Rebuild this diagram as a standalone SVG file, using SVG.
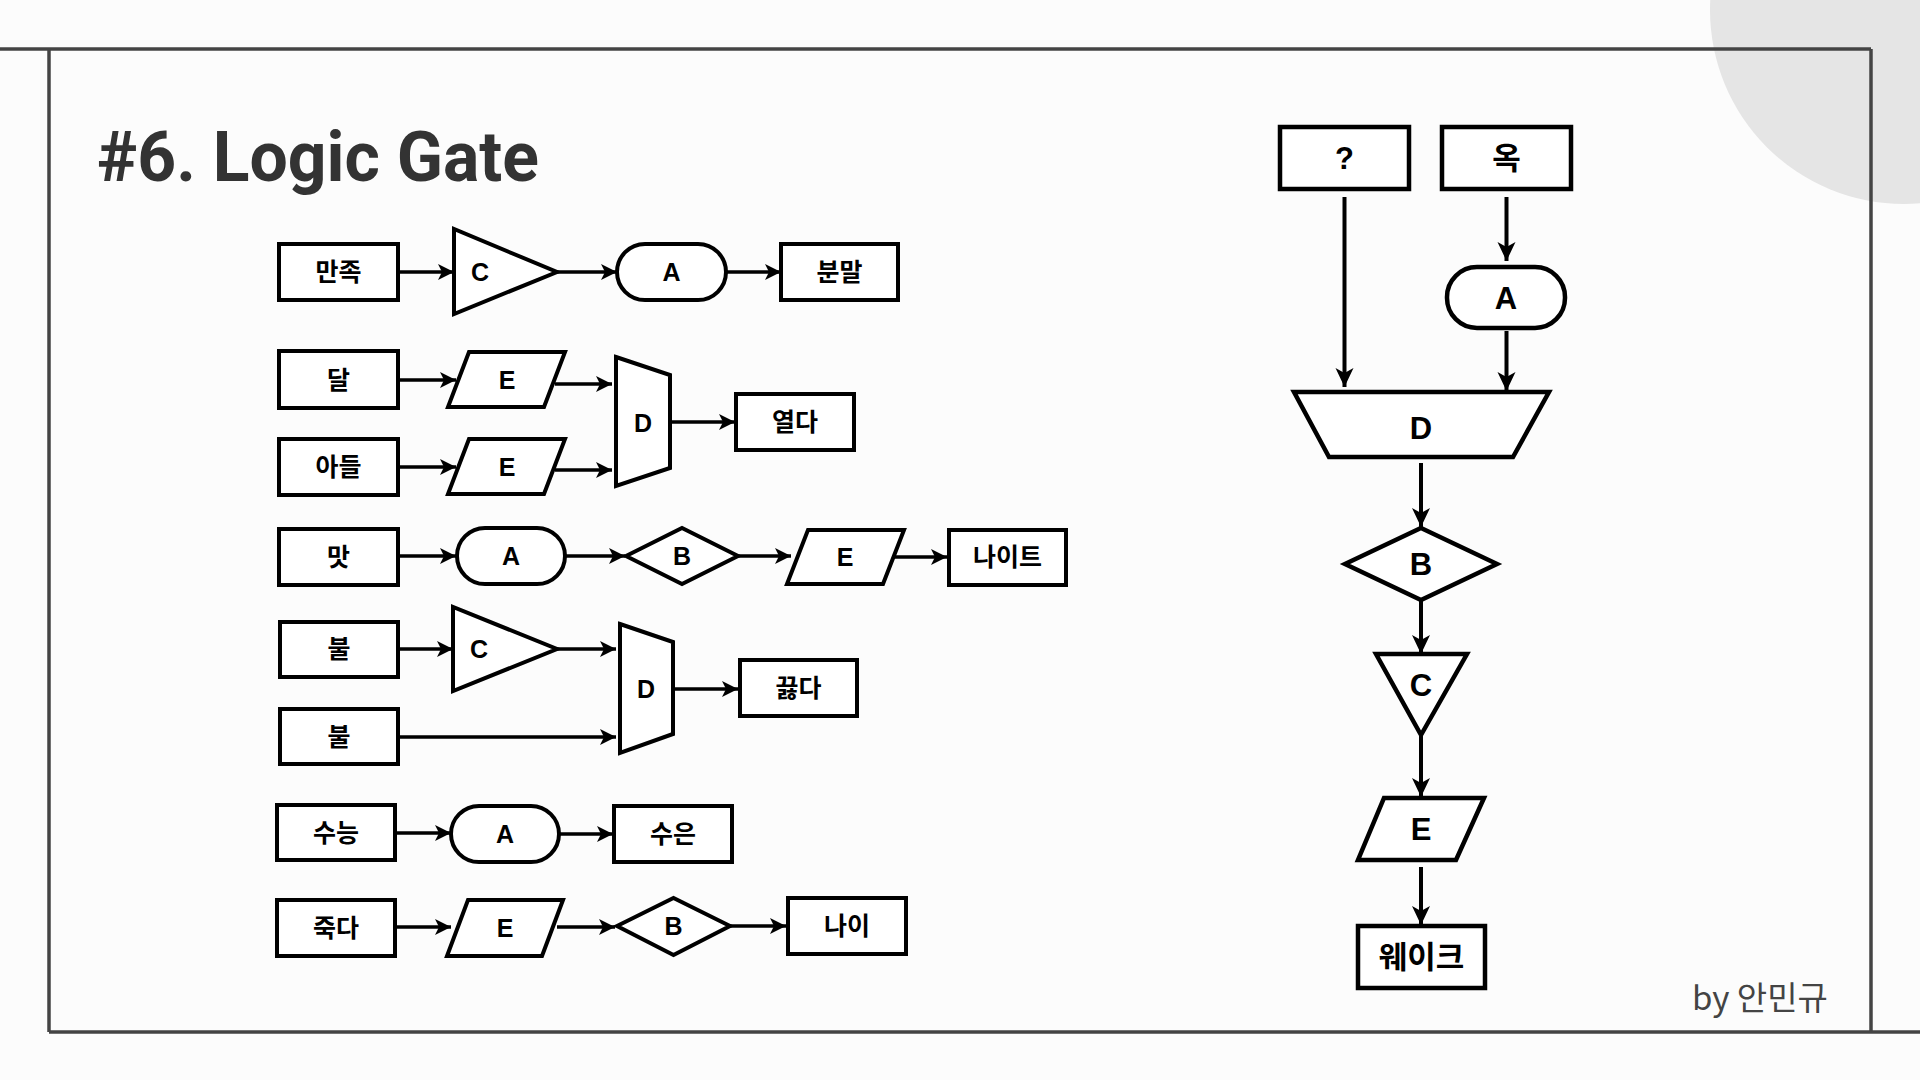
<svg xmlns="http://www.w3.org/2000/svg" width="1920" height="1080" viewBox="0 0 1920 1080">
<defs>
<style>
.n{fill:#ffffff;stroke:#000;stroke-width:4;stroke-linejoin:miter}
.nr{fill:#ffffff;stroke:#000;stroke-width:4.5;stroke-linejoin:miter}
.t{font-family:"Liberation Sans","Noto Sans CJK KR",sans-serif;font-weight:bold;font-size:25px;fill:#000;text-anchor:middle;dominant-baseline:central}
.tr{font-family:"Liberation Sans","Noto Sans CJK KR",sans-serif;font-weight:bold;font-size:31px;fill:#000;text-anchor:middle;dominant-baseline:central}
.e{fill:none;stroke:#000;stroke-width:3.5;marker-end:url(#ah)}
.er{fill:none;stroke:#000;stroke-width:4;marker-end:url(#ahr)}
.frame{fill:none;stroke:#444;stroke-width:3.5}
</style>
<marker id="ah" markerUnits="userSpaceOnUse" markerWidth="17" markerHeight="17" refX="16" refY="8" orient="auto" viewBox="0 0 17 17">
<path d="M0,0 L16,8 L0,16 L4,8 Z" fill="#000"/>
</marker>
<marker id="ahr" markerUnits="userSpaceOnUse" markerWidth="20" markerHeight="20" refX="19" refY="9" orient="auto" viewBox="0 0 20 20">
<path d="M0,0 L19,9 L0,18 L5,9 Z" fill="#000"/>
</marker>
</defs>
<rect x="0" y="0" width="1920" height="1080" fill="#fcfcfc"/>
<circle cx="1904" cy="10" r="194" fill="#e5e5e5"/>
<g id="frame">
<line class="frame" x1="0" y1="49" x2="1871" y2="49"/>
<line class="frame" x1="49" y1="49" x2="49" y2="1032"/>
<line class="frame" x1="1871" y1="49" x2="1871" y2="1032"/>
<line class="frame" x1="49" y1="1032" x2="1920" y2="1032"/>
</g>
<text id="title" x="97" y="181" font-family="Roboto, 'Liberation Sans', sans-serif" font-weight="bold" font-size="70" textLength="442" lengthAdjust="spacingAndGlyphs" fill="#333">#6. Logic Gate</text>
<text id="author" x="1692" y="1010" font-family="'Noto Sans CJK KR', sans-serif" font-size="33" fill="#444">by 안민규</text>

<g id="connectors">
<line class="e" x1="398" y1="272" x2="454" y2="272"/>
<line class="e" x1="557" y1="272" x2="617" y2="272"/>
<line class="e" x1="726" y1="272" x2="781" y2="272"/>
<line class="e" x1="398" y1="380" x2="456" y2="380"/>
<line class="e" x1="555" y1="384" x2="612" y2="384"/>
<line class="e" x1="398" y1="467" x2="456" y2="467"/>
<line class="e" x1="555" y1="470" x2="612" y2="470"/>
<line class="e" x1="670" y1="422" x2="735" y2="422"/>
<line class="e" x1="398" y1="556" x2="456" y2="556"/>
<line class="e" x1="565" y1="556" x2="625" y2="556"/>
<line class="e" x1="738" y1="556" x2="791" y2="556"/>
<line class="e" x1="894" y1="557" x2="947" y2="557"/>
<line class="e" x1="398" y1="649" x2="453" y2="649"/>
<line class="e" x1="557" y1="649" x2="616" y2="649"/>
<line class="e" x1="673" y1="689" x2="738" y2="689"/>
<line class="e" x1="398" y1="737" x2="616" y2="737"/>
<line class="e" x1="395" y1="833" x2="451" y2="833"/>
<line class="e" x1="559" y1="834" x2="613" y2="834"/>
<line class="e" x1="395" y1="927" x2="451" y2="927"/>
<line class="e" x1="557" y1="927" x2="615" y2="927"/>
<line class="e" x1="730" y1="926" x2="786" y2="926"/>
<line class="er" x1="1344.5" y1="197" x2="1344.5" y2="387"/>
<line class="er" x1="1506.5" y1="197" x2="1506.5" y2="261"/>
<line class="er" x1="1506.5" y1="331" x2="1506.5" y2="391"/>
<line class="er" x1="1421" y1="463" x2="1421" y2="527"/>
<line class="er" x1="1421" y1="600" x2="1421" y2="654"/>
<line class="er" x1="1421" y1="735" x2="1421" y2="797"/>
<line class="er" x1="1421" y1="867" x2="1421" y2="925"/>
</g>

<g id="n-manjok"><rect class="n" x="279" y="244" width="119" height="56"/><text class="t" x="338.5" y="272">만족</text></g>
<g id="n-c1"><polygon class="n" points="454,229 454,314 557,272"/><text class="t" x="480" y="272">C</text></g>
<g id="n-a1"><rect class="n" x="617" y="244" width="109" height="56" rx="28" ry="28"/><text class="t" x="671.5" y="272">A</text></g>
<g id="n-bunmal"><rect class="n" x="781" y="244" width="117" height="56"/><text class="t" x="839.5" y="272">분말</text></g>

<g id="n-dal"><rect class="n" x="279" y="351" width="119" height="57"/><text class="t" x="338.5" y="380">달</text></g>
<g id="n-e1"><polygon class="n" points="469,352 565,352 544,407 448,407"/><text class="t" x="507" y="380">E</text></g>
<g id="n-adeul"><rect class="n" x="279" y="439" width="119" height="56"/><text class="t" x="338.5" y="467">아들</text></g>
<g id="n-e2"><polygon class="n" points="469,439 565,439 544,494 448,494"/><text class="t" x="507" y="467">E</text></g>
<g id="n-d1"><polygon class="n" points="616,357 670,375 670,468 616,486"/><text class="t" x="643" y="423">D</text></g>
<g id="n-yeolda"><rect class="n" x="736" y="394" width="118" height="56"/><text class="t" x="795" y="422">열다</text></g>

<g id="n-mat"><rect class="n" x="279" y="529" width="119" height="56"/><text class="t" x="338.5" y="557">맛</text></g>
<g id="n-a2"><rect class="n" x="457" y="528" width="108" height="56" rx="28" ry="28"/><text class="t" x="511" y="556">A</text></g>
<g id="n-b1"><polygon class="n" points="626,556 682,528 738,556 682,584"/><text class="t" x="682" y="556">B</text></g>
<g id="n-e3"><polygon class="n" points="808,530 904,530 883,584 787,584"/><text class="t" x="845" y="557">E</text></g>
<g id="n-naite"><rect class="n" x="949" y="530" width="117" height="55"/><text class="t" x="1007.5" y="557">나이트</text></g>

<g id="n-bul1"><rect class="n" x="280" y="622" width="118" height="55"/><text class="t" x="339" y="649">불</text></g>
<g id="n-c2"><polygon class="n" points="453,607 453,691 557,649"/><text class="t" x="479" y="649">C</text></g>
<g id="n-bul2"><rect class="n" x="280" y="709" width="118" height="55"/><text class="t" x="339" y="737">불</text></g>
<g id="n-d2"><polygon class="n" points="620,624 673,642 673,734 620,753"/><text class="t" x="646" y="689">D</text></g>
<g id="n-kkeulta"><rect class="n" x="740" y="660" width="117" height="56"/><text class="t" x="798.5" y="688">끓다</text></g>

<g id="n-suneung"><rect class="n" x="277" y="805" width="118" height="55"/><text class="t" x="336" y="833">수능</text></g>
<g id="n-a3"><rect class="n" x="451" y="806" width="108" height="56" rx="28" ry="28"/><text class="t" x="505" y="834">A</text></g>
<g id="n-sueun"><rect class="n" x="614" y="806" width="118" height="56"/><text class="t" x="673" y="834">수은</text></g>

<g id="n-jukda"><rect class="n" x="277" y="900" width="118" height="56"/><text class="t" x="336" y="928">죽다</text></g>
<g id="n-e4"><polygon class="n" points="468,900 563,900 542,956 447,956"/><text class="t" x="505" y="928">E</text></g>
<g id="n-b2"><polygon class="n" points="617,926 673.5,898 730,926 673.5,955"/><text class="t" x="673.5" y="926">B</text></g>
<g id="n-nai"><rect class="n" x="788" y="898" width="118" height="56"/><text class="t" x="847" y="926">나이</text></g>

<g id="n-q"><rect class="nr" x="1280" y="127" width="129" height="62"/><text class="tr" x="1344.5" y="158">?</text></g>
<g id="n-ok"><rect class="nr" x="1442" y="127" width="129" height="62"/><text class="tr" x="1506.5" y="158">옥</text></g>
<g id="n-a4"><rect class="nr" x="1447" y="267" width="118" height="61" rx="30" ry="30"/><text class="tr" x="1506" y="298">A</text></g>
<g id="n-d3"><polygon class="nr" points="1294,392 1549,392 1513,457 1329,457"/><text class="tr" x="1421" y="428">D</text></g>
<g id="n-b3"><polygon class="nr" points="1421,528 1497,564 1421,600 1345,564"/><text class="tr" x="1421" y="564">B</text></g>
<g id="n-c3"><polygon class="nr" points="1376,654 1467,654 1421,735"/><text class="tr" x="1421" y="685">C</text></g>
<g id="n-e5"><polygon class="nr" points="1384,798 1484,798 1456,860 1358,860"/><text class="tr" x="1421" y="829">E</text></g>
<g id="n-wake"><rect class="nr" x="1358" y="926" width="127" height="62" stroke-width="5"/><text class="tr" x="1421.5" y="957">웨이크</text></g>
</svg>
